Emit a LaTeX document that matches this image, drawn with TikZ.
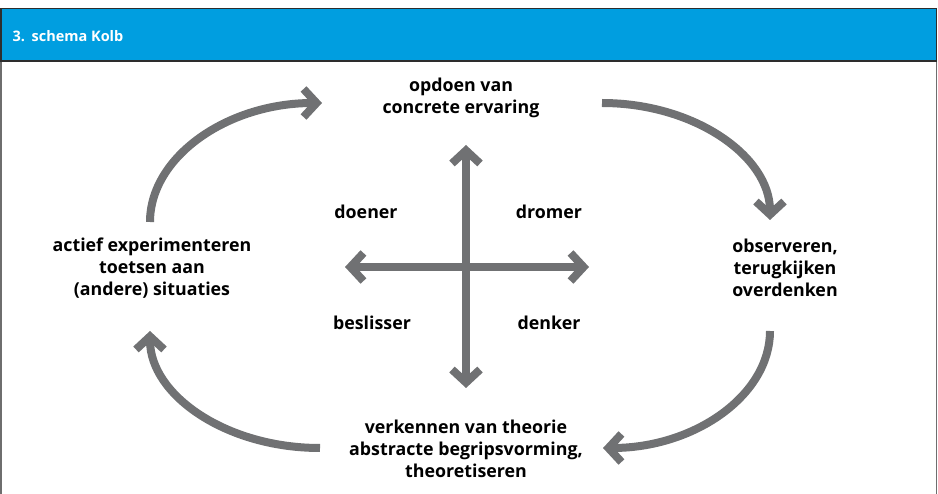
\documentclass[tikz,border=0pt]{standalone}
\usepackage{fontspec}
\setmainfont{Open Sans}
\usetikzlibrary{arrows.meta}
\definecolor{hdrblue}{RGB}{0,158,224}
\definecolor{arrowgray}{RGB}{112,113,115}
\definecolor{framegray}{RGB}{110,110,110}
\definecolor{framedark}{RGB}{45,45,45}
\begin{document}
\begin{tikzpicture}[x=1pt,y=-1pt,
  garrow/.style={draw=arrowgray, line width=8pt, -{Straight Barb[length=13pt,width=28pt]}},
  gdarrow/.style={draw=arrowgray, line width=8pt, {Straight Barb[length=13pt,width=28pt]}-{Straight Barb[length=13pt,width=28pt]}},
  lbl/.style={font=\bfseries\fontsize{17.8}{22}\selectfont, align=center, inner sep=0pt, text=black}]
\useasboundingbox (0,0) rectangle (938,494);
% frame
\draw[framegray, line width=1.5pt] (1,61) -- (1,500);
\draw[framegray, line width=1.5pt] (936.5,61) -- (936.5,500);
\draw[fill=hdrblue, draw=framedark, line width=1.2pt] (1,8.5) rectangle (936.5,61);
\node[anchor=west, text=white, font=\bfseries\fontsize{14.5}{16}\selectfont, inner sep=0pt] (title) at (12.5,36) {3.\hspace{0.45em}schema Kolb};
% texts
\node[lbl] (top) at (461,98) {opdoen van\\concrete ervaring};
\node[lbl] (right) at (785,268) {observeren,\\terugkijken\\overdenken};
\node[lbl] (bottom) at (466,449) {verkennen van theorie\\abstracte begripsvorming,\\theoretiseren};
\node[lbl] (left) at (152,268) {actief experimenteren\\toetsen aan\\(andere) situaties};
\node[lbl] (doener) at (366,212) {doener};
\node[lbl] (dromer) at (549,212) {dromer};
\node[lbl] (beslisser) at (372,323) {beslisser};
\node[lbl] (denker) at (549,323) {denker};
% cross
\coordinate (vt) at (466,145);
\coordinate (vb) at (466,388);
\coordinate (hl) at (345,267);
\coordinate (hr) at (589,267);
\draw[gdarrow] (vb) -- (vt);
\draw[gdarrow] (hl) -- (hr);
% cycle arcs
\coordinate (a1s) at (150,222); \coordinate (a1e) at (322,103);
\coordinate (a2s) at (602,103); \coordinate (a2e) at (770,220);
\coordinate (a3s) at (770,331); \coordinate (a3e) at (603,448);
\coordinate (a4s) at (320,448); \coordinate (a4e) at (150,331);
\draw[garrow] (a1s) .. controls (150,157) and (227,103) .. (a1e);
\draw[garrow] (a2s) .. controls (694,103) and (770,156) .. (a2e);
\draw[garrow] (a3s) .. controls (770,395) and (695,448) .. (a3e);
\draw[garrow] (a4s) .. controls (226,448) and (150,395) .. (a4e);
\end{tikzpicture}
\end{document}
